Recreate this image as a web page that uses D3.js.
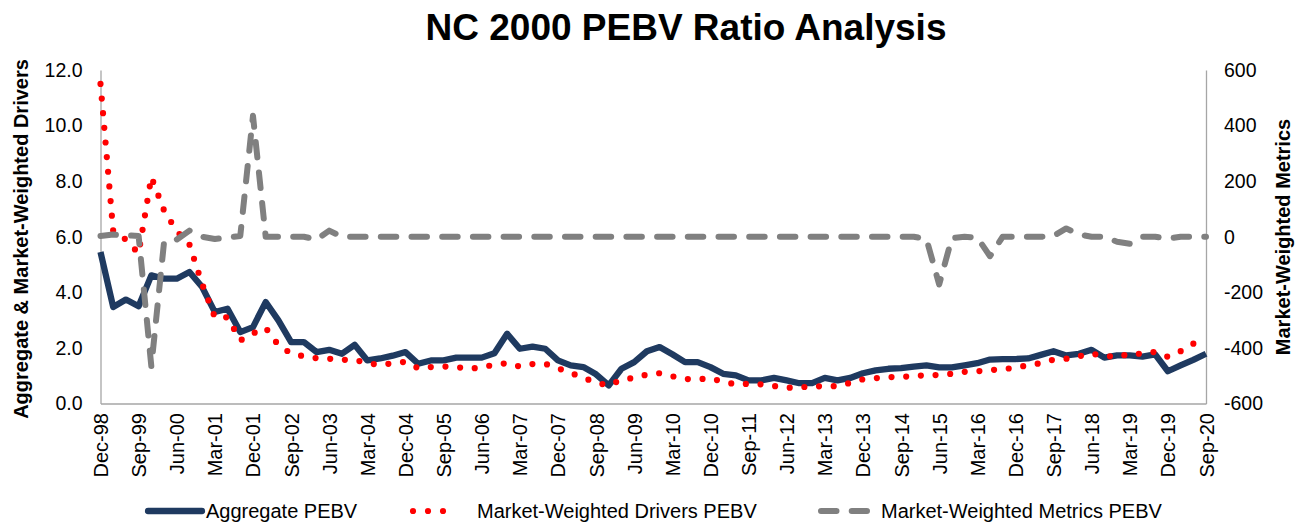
<!DOCTYPE html>
<html><head><meta charset="utf-8">
<script src="https://cdn.jsdelivr.net/npm/d3@7"></script>
<style>
body{margin:0;background:#fff;}
text{font-family:"Liberation Sans",Arial,sans-serif;}
</style>
</head><body>
<svg id="c" width="1301" height="523"></svg>
<script>
const quarters = [
"Dec-98",
"Mar-99","Jun-99","Sep-99","Dec-99",
"Mar-00","Jun-00","Sep-00","Dec-00",
"Mar-01","Jun-01","Sep-01","Dec-01",
"Mar-02","Jun-02","Sep-02","Dec-02",
"Mar-03","Jun-03","Sep-03","Dec-03",
"Mar-04","Jun-04","Sep-04","Dec-04",
"Mar-05","Jun-05","Sep-05","Dec-05",
"Mar-06","Jun-06","Sep-06","Dec-06",
"Mar-07","Jun-07","Sep-07","Dec-07",
"Mar-08","Jun-08","Sep-08","Dec-08",
"Mar-09","Jun-09","Sep-09","Dec-09",
"Mar-10","Jun-10","Sep-10","Dec-10",
"Mar-11","Jun-11","Sep-11","Dec-11",
"Mar-12","Jun-12","Sep-12","Dec-12",
"Mar-13","Jun-13","Sep-13","Dec-13",
"Mar-14","Jun-14","Sep-14","Dec-14",
"Mar-15","Jun-15","Sep-15","Dec-15",
"Mar-16","Jun-16","Sep-16","Dec-16",
"Mar-17","Jun-17","Sep-17","Dec-17",
"Mar-18","Jun-18","Sep-18","Dec-18",
"Mar-19","Jun-19","Sep-19","Dec-19",
"Mar-20","Jun-20","Sep-20"];

const tickLabels = ["Dec-98","Sep-99","Jun-00","Mar-01","Dec-01","Sep-02","Jun-03","Mar-04","Dec-04","Sep-05",
"Jun-06","Mar-07","Dec-07","Sep-08","Jun-09","Mar-10","Dec-10","Sep-11","Jun-12","Mar-13",
"Dec-13","Sep-14","Jun-15","Mar-16","Dec-16","Sep-17","Jun-18","Mar-19","Dec-19","Sep-20"];

const aggregatePEBV = [
5.45,3.47,3.74,3.5,4.61,4.49,4.49,4.73,4.19,3.29,
3.41,2.57,2.75,3.65,2.99,2.21,2.21,1.85,1.93,1.79,
2.11,1.55,1.62,1.72,1.85,1.43,1.55,1.55,1.65,1.65,
1.65,1.81,2.51,1.97,2.05,1.97,1.55,1.37,1.31,1.05,
0.65,1.25,1.49,1.88,2.03,1.77,1.49,1.49,1.31,1.07,
1.01,0.83,0.83,0.92,0.83,0.73,0.73,0.92,0.83,0.92,
1.09,1.19,1.25,1.27,1.33,1.37,1.3,1.3,1.37,1.45,
1.58,1.6,1.6,1.62,1.75,1.88,1.73,1.79,1.93,1.65,
1.73,1.73,1.69,1.77,1.16,1.37,1.57,1.79];

const driversPEBV = [
11.5,6.2,5.9,5.4,8.15,6.95,6.2,5.72,4.3,3.1,
3.1,2.27,2.52,2.72,2.1,1.8,1.7,1.63,1.61,1.57,
1.57,1.45,1.39,1.45,1.5,1.27,1.31,1.33,1.31,1.25,
1.3,1.4,1.45,1.33,1.42,1.43,1.27,1.1,0.93,0.75,
0.65,0.86,0.92,1.04,1.09,0.98,0.88,0.87,0.91,0.78,
0.69,0.71,0.69,0.63,0.57,0.57,0.63,0.61,0.63,0.74,
0.87,0.91,0.95,0.95,1.0,1.01,1.03,1.07,1.14,1.16,
1.2,1.24,1.28,1.38,1.45,1.58,1.61,1.7,1.79,1.72,
1.67,1.79,1.79,1.86,1.68,1.88,2.15,2.4];

const metricsPEBV = [
3,8,5,3,-466,-20,-10,22,0,-8,
-3,3,435,0,0,0,0,-10,22,0,
0,0,0,0,0,0,0,0,0,0,
0,0,0,0,0,0,0,0,0,0,
0,0,0,0,0,0,0,0,0,0,
0,0,0,0,0,0,0,0,0,0,
0,0,0,0,0,-8,-172,-5,0,-3,
-70,0,0,0,0,3,30,8,0,0,
-18,-25,0,0,-7,0,0,0];

const leftTicks = [0,2,4,6,8,10,12];
const rightTicks = [-600,-400,-200,0,200,400,600];

const svg = d3.select("#c");
const L = 100.5, R = 1206, T = 70, B = 403.5;
const x = d3.scalePoint().domain(quarters).range([L, R]);
const yL = d3.scaleLinear().domain([0,12]).range([B,T]);
const yR = d3.scaleLinear().domain([-600,600]).range([B,T]);

const axisColor = "#A6A6A6";
function styleAxis(g){
  g.select(".domain").attr("stroke", axisColor).attr("stroke-width",1.3);
  g.selectAll("text").attr("fill","#000").style("font-size","19.5px").style("font-family",'"Liberation Sans",Arial,sans-serif');
}

// left axis
const gl = svg.append("g").attr("transform",`translate(${L},0)`)
  .call(d3.axisLeft(yL).tickValues(leftTicks).tickFormat(d3.format(".1f")).tickSize(0).tickPadding(18));
styleAxis(gl);

// right axis
const gr = svg.append("g").attr("transform",`translate(${R},0)`)
  .call(d3.axisRight(yR).tickValues(rightTicks).tickFormat(d => String(d)).tickSize(0).tickPadding(18));
styleAxis(gr);

// bottom axis
const gb = svg.append("g").attr("transform",`translate(0,${B})`)
  .call(d3.axisBottom(x).tickValues(tickLabels).tickSize(0));
styleAxis(gb);
gb.selectAll("text")
  .attr("transform","rotate(-90)")
  .attr("x",-9.5).attr("y",0).attr("dy","0.35em")
  .style("text-anchor","end")
  .style("font-size","20px");

// lines
const lineL = d3.line().x((d,i)=>x(quarters[i])).y(d=>yL(d));
const lineR = d3.line().x((d,i)=>x(quarters[i])).y(d=>yR(d));

svg.append("path").datum(aggregatePEBV).attr("d",lineL)
  .attr("fill","none").attr("stroke","#1F3A60").attr("stroke-width",6.3)
  .attr("stroke-linejoin","round").attr("stroke-linecap","butt");

svg.append("path").datum(driversPEBV).attr("d",lineL)
  .attr("fill","none").attr("stroke","#FF0000").attr("stroke-width",6.2)
  .attr("stroke-linecap","round").attr("stroke-dasharray","0 14.7");

svg.append("path").datum(metricsPEBV).attr("d",lineR)
  .attr("fill","none").attr("stroke","#808080").attr("stroke-width",6)
  .attr("stroke-linejoin","round").attr("stroke-linecap","round").attr("stroke-dasharray","15.5 15.2");

// axis titles
svg.append("text").attr("transform","translate(28,239) rotate(-90)")
  .attr("text-anchor","middle").style("font-weight","bold").style("font-size","20px")
  .text("Aggregate & Market-Weighted Drivers");
svg.append("text").attr("transform","translate(1290,237) rotate(-90)")
  .attr("text-anchor","middle").style("font-weight","bold").style("font-size","20px")
  .text("Market-Weighted Metrics");

// title
svg.append("text").attr("x",686).attr("y",40).attr("text-anchor","middle")
  .style("font-weight","bold").style("font-size","37px")
  .text("NC 2000 PEBV Ratio Analysis");

// legend
const ly = 511;
const lg = svg.append("g");
lg.append("line").attr("x1",148).attr("x2",202).attr("y1",ly).attr("y2",ly)
  .attr("stroke","#1F3A60").attr("stroke-width",6.3).attr("stroke-linecap","round");
lg.append("text").attr("x",206).attr("y",ly).attr("dy","0.35em").style("font-size","20px").text("Aggregate PEBV");
lg.append("line").attr("x1",413).attr("x2",458).attr("y1",ly).attr("y2",ly)
  .attr("stroke","#FF0000").attr("stroke-width",6.2).attr("stroke-linecap","round").attr("stroke-dasharray","0 15");
lg.append("text").attr("x",477).attr("y",ly).attr("dy","0.35em").style("font-size","20px").text("Market-Weighted Drivers PEBV");
lg.append("line").attr("x1",821).attr("x2",867).attr("y1",ly).attr("y2",ly)
  .attr("stroke","#808080").attr("stroke-width",6).attr("stroke-linecap","round").attr("stroke-dasharray","15.5 15.2");
lg.append("text").attr("x",881).attr("y",ly).attr("dy","0.35em").style("font-size","20px").text("Market-Weighted Metrics PEBV");
</script>
</body></html>
